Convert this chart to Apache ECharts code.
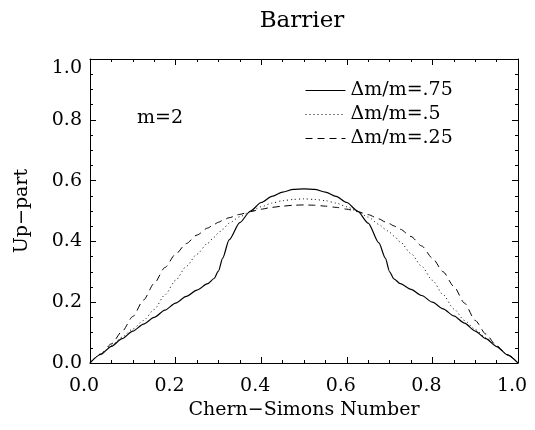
<!DOCTYPE html>
<html>
<head>
<meta charset="utf-8">
<title>Barrier</title>
<script src="https://cdn.jsdelivr.net/npm/echarts@6/dist/echarts.min.js"></script>
<style>
  html, body { margin: 0; padding: 0; background: #fff; }
  #main { width: 535px; height: 430px; }
</style>
</head>
<body>
<div id="main"></div>
<script>
// Chern-Simons number (x)
var xs = [0, .025, .05, .075, .1, .125, .15, .175, .2, .225, .25, .275, .29, .3, .31, .325, .35, .375, .4, .425, .45, .475, .5,
          .525, .55, .575, .6, .625, .65, .675, .69, .7, .71, .725, .75, .775, .8, .825, .85, .875, .9, .925, .95, .975, 1];

// Up-part for dm/m = .75 (solid)
var up75 = [0, .028, .055, .08, .105, .128, .15, .174, .197, .219, .24, .261, .278, .302, .345, .405, .462, .5, .528, .548, .562, .571, .573,
            .571, .562, .548, .528, .5, .46, .395, .345, .3, .277, .261, .242, .222, .2, .178, .155, .131, .105, .08, .054, .027, 0];

// dm/m = .5 (dotted)
var up50 = [0, .029, .058, .085, .112, .14, .176, .224, .272, .318, .358, .394, .414, .428, .44, .46, .481, .498, .514, .526, .534, .538, .54,
            .538, .534, .526, .514, .498, .48, .456, .44, .43, .418, .398, .36, .318, .272, .225, .178, .14, .11, .083, .056, .028, 0];

// dm/m = .25 (dashed)
var up25 = [0, .03, .063, .104, .153, .207, .262, .314, .358, .393, .421, .444, .456, .463, .469, .478, .489, .498, .506, .512, .516, .519, .52,
            .519, .516, .512, .506, .498, .488, .474, .464, .458, .451, .44, .416, .385, .345, .3, .252, .197, .14, .095, .056, .027, 0];

var names = ['\u0394m/m=.75', '\u0394m/m=.5', '\u0394m/m=.25'];

function pairs(ys) {
    return xs.map(function (x, i) { return [x, ys[i]]; });
}

var font = 'DejaVu Serif';

var axisCommon = {
    type: 'value', min: 0, max: 1, interval: 0.2,
    axisLine: { show: true, onZero: false, lineStyle: { color: '#000', width: 1 } },
    axisTick: { show: true, inside: true, length: 6, lineStyle: { color: '#000' } },
    minorTick: { show: true, splitNumber: 4, length: 3, lineStyle: { color: '#000' } },
    splitLine: { show: false }
};

var myChart = echarts.init(document.getElementById('main'));

var option = {
    animation: false,
    backgroundColor: '#fff',
    title: {
        text: 'Barrier',
        left: 297, top: 5, textAlign: 'center',
        textStyle: { fontFamily: font, fontWeight: 'normal', fontSize: 23, color: '#000' }
    },
    legend: {
        orient: 'vertical',
        left: 300, top: 76,
        itemWidth: 40, itemHeight: 14, itemGap: 5,
        data: names,
        itemStyle: { opacity: 0 },
        lineStyle: { width: 1 },
        textStyle: { fontFamily: font, fontSize: 19, color: '#000' }
    },
    grid: { left: 90, right: 17, top: 59, bottom: 67 },
    graphic: [{
        type: 'text', left: 137, top: 109,
        style: { text: 'm=2', fontFamily: font, fontSize: 19, fill: '#000' }
    }],
    xAxis: [
        Object.assign({}, axisCommon, {
            position: 'bottom',
            name: 'Chern\u2212Simons Number', nameLocation: 'middle', nameGap: 38,
            nameTextStyle: { fontFamily: font, fontSize: 19, color: '#000' },
            axisLabel: {
                fontFamily: font, fontSize: 19, color: '#000', margin: 14,
                padding: [0, 12, 0, 0],
                formatter: function (v) { return v.toFixed(1); }
            }
        }),
        Object.assign({}, axisCommon, { position: 'top', axisLabel: { show: false } })
    ],
    yAxis: [
        Object.assign({}, axisCommon, {
            position: 'left',
            name: 'Up\u2212part', nameLocation: 'middle', nameGap: 58,
            nameTextStyle: { fontFamily: font, fontSize: 19, color: '#000' },
            axisLabel: {
                fontFamily: font, fontSize: 19, color: '#000', margin: 8,
                verticalAlignMaxLabel: 'top',
                formatter: function (v) { return v.toFixed(1); }
            }
        }),
        Object.assign({}, axisCommon, { position: 'right', axisLabel: { show: false } })
    ],
    series: [
        {
            name: names[0], type: 'line', data: pairs(up75),
            symbol: 'none', smooth: 0.25, smoothMonotone: 'x',
            lineStyle: { color: '#000', width: 1.2, type: 'solid' },
            itemStyle: { color: '#000' }
        },
        {
            name: names[1], type: 'line', data: pairs(up50),
            symbol: 'none', smooth: 0.25, smoothMonotone: 'x',
            lineStyle: { color: '#000', width: 1, type: [1, 3] },
            itemStyle: { color: '#000' }
        },
        {
            name: names[2], type: 'line', data: pairs(up25),
            symbol: 'none', smooth: 0.25, smoothMonotone: 'x',
            lineStyle: { color: '#000', width: 1, type: [7, 5] },
            itemStyle: { color: '#000' }
        }
    ]
};

myChart.setOption(option);
</script>
</body>
</html>
